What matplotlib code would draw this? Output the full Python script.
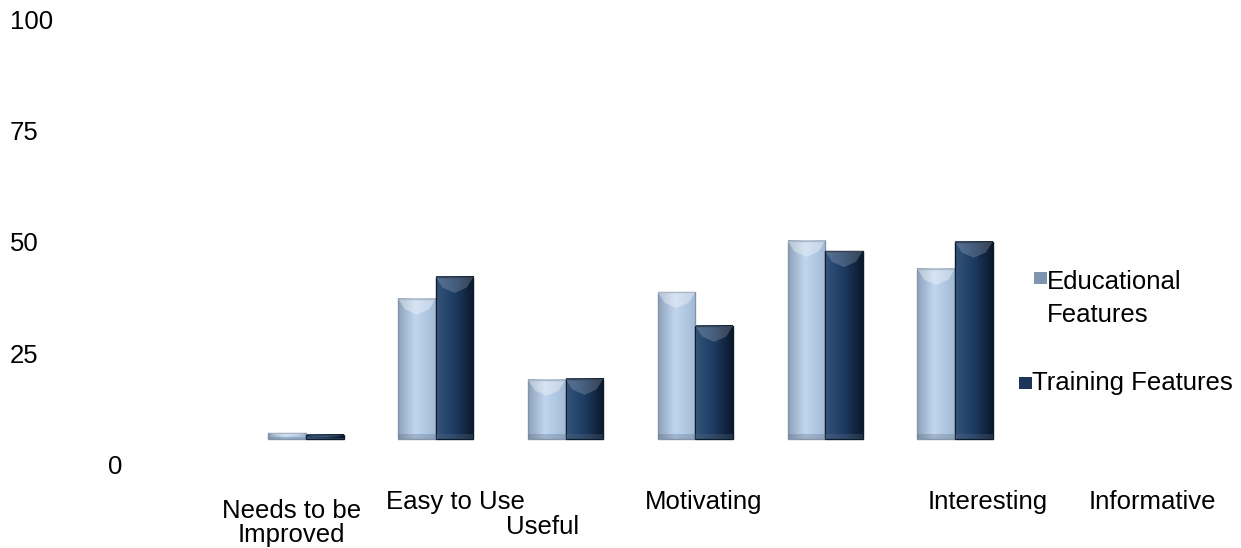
import numpy as np
import matplotlib
matplotlib.use("Agg")
import matplotlib.pyplot as plt
from matplotlib.patches import Rectangle, Polygon
from matplotlib.colors import to_rgb

plt.rcParams["font.family"] = ["Liberation Sans", "DejaVu Sans"]

# data (value on the 0-100 scale)
categories = ["Needs to be\nImproved", "Easy to Use", "Useful", "Motivating",
              "Interesting", "Informative"]
educational = [7.6, 37.8, 19.6, 39.3, 50.8, 44.5]
training = [7.2, 42.7, 19.8, 31.7, 48.5, 50.6]
y_ticks = [0, 25, 50, 75, 100]
series_names = ["Educational\nFeatures", "Training Features"]

# layout (the original labels are scattered, keep them where they sit)
label_x = [-0.11, 1.15, 1.82, 3.06, 5.25, 6.52]
label_y = [-12.6, -7.9, -13.5, -7.9, -7.9, -7.9]
floor = 6.3
bar_w = 0.29

edu_cols = ["#8ea2ba", "#c0d6ef", "#a3bad6"]
trn_cols = ["#33537a", "#1f3e66", "#0a182b"]


def gradient(cols, n=64):
    c = [np.array(to_rgb(k)) for k in cols]
    t = np.linspace(0, 1, n)
    img = np.zeros((1, n, 3))
    for i, v in enumerate(t):
        if v < 0.45:
            f = v / 0.45
            img[0, i] = c[0] * (1 - f) + c[1] * f
        else:
            f = (v - 0.45) / 0.55
            img[0, i] = c[1] * (1 - f) + c[2] * f
    return img


def shaded_bar(ax, x, top, cols, edge, shine):
    left, right = x - bar_w / 2, x + bar_w / 2
    h = top - floor
    ax.imshow(gradient(cols), extent=[left, right, floor, top],
              aspect="auto", zorder=2, interpolation="bilinear")
    ax.add_patch(Rectangle((left, floor), bar_w, h, fill=False,
                           edgecolor=edge, lw=1.0, zorder=3))
    # bevel highlight at the top
    d = min(2.4, h * 0.35)
    hl = Polygon([(left, top), (right, top), (right - bar_w * 0.18, top - d),
                  (x, top - d * 1.5), (left + bar_w * 0.18, top - d)],
                 closed=True, facecolor="white", alpha=shine, lw=0, zorder=3)
    ax.add_patch(hl)
    # darker strip at the base
    s = min(1.0, h * 0.3)
    ax.add_patch(Rectangle((left, floor), bar_w, s, facecolor="#5a6b80",
                           alpha=0.3, lw=0, zorder=3))


fig = plt.figure(figsize=(12.41, 5.48), dpi=100)
ax = fig.add_axes([0, 0, 1, 1])
ax.axis("off")

x = np.arange(len(categories))
for i in x:
    shaded_bar(ax, i - bar_w / 2, educational[i], edu_cols, "#8595a9", 0.35)
    shaded_bar(ax, i + bar_w / 2, training[i], trn_cols, "#0d1b2c", 0.18)

for lab, lx, ly in zip(categories, label_x, label_y):
    ax.text(lx, ly, lab, ha="center", va="center", fontsize=18.5,
            linespacing=1.0, color="black")

for v in y_ticks:
    if v == 0:
        ax.text(-1.47, v, "0", ha="center", va="center", fontsize=18.5)
    else:
        ax.text(-2.28, v, str(v), ha="left", va="center", fontsize=18.5)

# legend drawn by hand
ax.add_patch(Rectangle((0.833, 0.482), 0.0105, 0.022, transform=fig.transFigure,
                       facecolor="#7f94ae", edgecolor="none"))
fig.text(0.8435, 0.507, series_names[0], ha="left", va="top", fontsize=18.5,
         linespacing=1.45)
ax.add_patch(Rectangle((0.821, 0.290), 0.0105, 0.022, transform=fig.transFigure,
                       facecolor="#1d3658", edgecolor="none"))
fig.text(0.8318, 0.301, series_names[1], ha="left", va="center", fontsize=18.5)

ax.set_xlim(-2.357, 7.203)
ax.set_ylim(-18.2, 104.9)

fig.savefig("out.png", dpi=100)
